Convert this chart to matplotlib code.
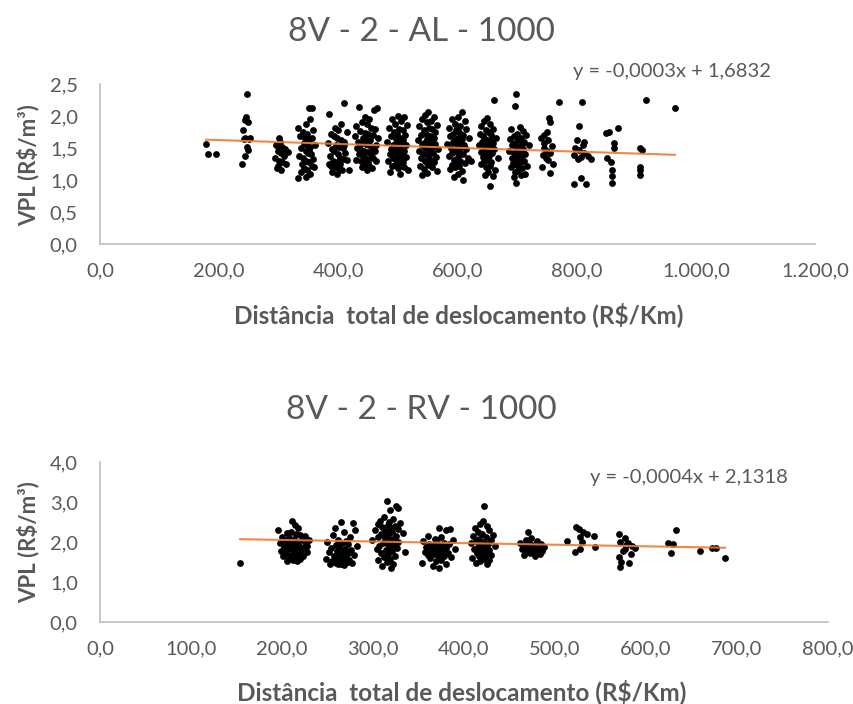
import matplotlib
matplotlib.use("Agg")
import numpy as np
import matplotlib.pyplot as plt

plt.rcParams['font.family'] = ['Lato', 'DejaVu Sans']

# ---------- top chart: 8V - 2 - AL - 1000 ----------
al_x = [178, 181, 195,
        247, 245, 243, 248, 240, 244, 250, 252, 241, 246, 249, 243, 239,
        300, 302, 296, 305, 310, 298, 303, 308, 315, 294, 300, 306, 299, 312, 297, 304, 309, 301,
        350, 355, 332, 345, 352, 340, 348, 358, 336, 344, 350, 356, 342, 347, 353, 338, 360, 345,
        349, 354, 334, 341, 357, 346, 351, 339, 355, 343, 348, 337, 352, 359, 345, 333, 350,
        410, 385, 405, 395, 400, 388, 415, 392, 398, 404, 410, 383, 396, 401, 407, 389, 393, 412,
        399, 386, 403, 408, 391, 397, 414, 402, 387, 394, 400, 406, 390, 398, 418, 384, 409,
        434, 465, 460, 445, 452, 440, 430, 448, 455, 462, 436, 444, 450, 458, 428, 441, 447, 453,
        466, 433, 439, 446, 451, 457, 463, 431, 437, 443, 449, 456, 461, 435, 442, 454, 459, 429,
        438, 450, 464, 445, 452, 440, 456, 448, 444,
        500, 510, 490, 505, 495, 515, 485, 502, 508, 493, 498, 512, 488, 504, 496, 509, 482, 500,
        506, 492, 514, 497, 503, 489, 511, 494, 501, 507, 486, 499, 513, 491, 505, 497, 484, 508,
        502, 495, 490, 510, 500, 517, 487, 504, 498,
        550, 545, 560, 540, 555, 548, 565, 535, 552, 558, 543, 562, 547, 538, 554, 560, 549, 533,
        556, 544, 563, 551, 541, 557, 546, 568, 536, 553, 559, 542, 550, 564, 539, 555, 545, 561,
        548, 552, 537, 557, 544, 566, 549, 541, 554,
        608, 600, 590, 612, 595, 605, 585, 615, 598, 603, 592, 610, 588, 601, 607, 596, 620, 593,
        604, 583, 611, 599, 606, 589, 614, 597, 602, 591, 609, 586, 600, 618, 594, 605, 598, 612,
        590, 603, 596, 587, 608, 601, 594, 610, 622,
        662, 650, 645, 655, 640, 660, 648, 652, 638, 657, 643, 665, 646, 654, 641, 659, 649, 636,
        656, 644, 662, 651, 639, 658, 647, 653, 642, 668, 650, 645, 657, 640, 655, 648, 663, 652,
        646, 660, 655,
        699, 696, 705, 690, 710, 700, 715, 694, 706, 688, 702, 712, 697, 708, 692, 704, 720, 699,
        710, 686, 703, 695, 714, 701, 707, 691, 698, 711, 705, 693, 700, 716, 689, 709, 702, 697,
        699, 706, 713, 695,
        770, 753, 756, 750, 745, 740, 752, 758, 746, 750, 755, 743, 752, 741, 755, 760, 748, 745,
        809, 804, 800, 812, 810, 798, 804, 812, 795, 807, 819, 824, 802, 795, 807, 815,
        849, 854, 869, 862, 862, 851, 857, 859, 859, 859,
        906, 909, 906, 906, 906, 916, 965]
al_y = [1.56, 1.41, 1.41,
        2.34, 1.99, 1.94, 1.90, 1.78, 1.66, 1.64, 1.65, 1.64, 1.52, 1.47, 1.38, 1.25,
        1.66, 1.60, 1.55, 1.52, 1.48, 1.45, 1.42, 1.40, 1.43, 1.35, 1.30, 1.28, 1.22, 1.25, 1.18, 1.15, 1.38, 1.50,
        2.12, 2.12, 1.82, 1.88, 1.95, 1.75, 1.72, 1.78, 1.68, 1.65, 1.62, 1.66, 1.58, 1.55, 1.52, 1.50, 1.55, 1.46,
        1.42, 1.40, 1.38, 1.35, 1.33, 1.30, 1.28, 1.25, 1.22, 1.18, 1.15, 1.12, 1.10, 1.20, 1.05, 1.03, 1.45,
        2.20, 2.03, 1.88, 1.82, 1.78, 1.72, 1.75, 1.68, 1.65, 1.62, 1.60, 1.58, 1.55, 1.52, 1.50, 1.48, 1.45, 1.42,
        1.40, 1.38, 1.35, 1.33, 1.30, 1.28, 1.32, 1.25, 1.22, 1.20, 1.18, 1.15, 1.12, 1.10, 1.16, 1.25, 1.55,
        2.14, 2.12, 2.10, 1.98, 1.95, 1.90, 1.85, 1.88, 1.82, 1.80, 1.76, 1.74, 1.72, 1.70, 1.68, 1.66, 1.64, 1.62,
        1.65, 1.60, 1.58, 1.56, 1.54, 1.52, 1.55, 1.50, 1.48, 1.46, 1.44, 1.42, 1.45, 1.40, 1.38, 1.36, 1.34, 1.32,
        1.30, 1.28, 1.30, 1.25, 1.22, 1.20, 1.18, 1.15, 1.35,
        2.00, 1.98, 1.95, 1.92, 1.88, 1.86, 1.82, 1.80, 1.78, 1.75, 1.72, 1.70, 1.68, 1.66, 1.64, 1.62, 1.60, 1.58,
        1.56, 1.55, 1.54, 1.52, 1.50, 1.48, 1.46, 1.45, 1.44, 1.42, 1.40, 1.38, 1.36, 1.35, 1.34, 1.32, 1.30, 1.28,
        1.26, 1.24, 1.22, 1.20, 1.18, 1.15, 1.12, 1.10, 1.60,
        2.06, 2.02, 1.98, 1.95, 1.92, 1.90, 1.86, 1.84, 1.82, 1.80, 1.78, 1.75, 1.72, 1.70, 1.68, 1.66, 1.64, 1.62,
        1.60, 1.58, 1.56, 1.55, 1.54, 1.52, 1.50, 1.48, 1.46, 1.44, 1.42, 1.40, 1.38, 1.36, 1.34, 1.32, 1.30, 1.28,
        1.26, 1.24, 1.22, 1.20, 1.17, 1.14, 1.11, 1.08, 1.45,
        2.06, 1.98, 1.95, 1.92, 1.88, 1.85, 1.82, 1.80, 1.78, 1.75, 1.72, 1.70, 1.68, 1.66, 1.64, 1.62, 1.65, 1.60,
        1.58, 1.56, 1.55, 1.54, 1.52, 1.50, 1.48, 1.46, 1.44, 1.42, 1.40, 1.38, 1.36, 1.34, 1.32, 1.30, 1.28, 1.26,
        1.24, 1.22, 1.20, 1.17, 1.14, 1.10, 1.05, 1.00, 1.30,
        2.25, 1.97, 1.92, 1.88, 1.84, 1.80, 1.78, 1.75, 1.72, 1.70, 1.68, 1.66, 1.64, 1.62, 1.60, 1.58, 1.56, 1.54,
        1.52, 1.50, 1.48, 1.46, 1.44, 1.42, 1.40, 1.38, 1.36, 1.34, 1.32, 1.30, 1.28, 1.25, 1.22, 1.20, 1.16, 1.12,
        1.08, 1.06, 0.91,
        2.34, 2.16, 1.83, 1.80, 1.76, 1.72, 1.70, 1.68, 1.66, 1.64, 1.62, 1.60, 1.58, 1.56, 1.54, 1.52, 1.55, 1.50,
        1.48, 1.46, 1.44, 1.42, 1.40, 1.38, 1.36, 1.34, 1.32, 1.30, 1.28, 1.26, 1.24, 1.22, 1.20, 1.18, 1.15, 1.12,
        0.95, 1.08, 1.10, 1.05,
        2.22, 1.97, 1.90, 1.75, 1.70, 1.66, 1.62, 1.53, 1.50, 1.45, 1.42, 1.39, 1.31, 1.20, 1.11, 1.25, 1.35, 1.58,
        2.22, 1.85, 1.63, 1.60, 1.55, 1.50, 1.47, 1.42, 1.39, 1.36, 1.38, 1.33, 1.33, 0.94, 1.03, 0.94,
        1.73, 1.75, 1.81, 1.58, 1.50, 1.34, 1.28, 1.16, 1.06, 0.95,
        1.50, 1.47, 1.20, 1.16, 1.08, 2.25, 2.12]
al_slope, al_intercept = -0.0003, 1.6832
al_ticks_x = [0, 200, 400, 600, 800, 1000, 1200]
al_ticklabels_x = ["0,0", "200,0", "400,0", "600,0", "800,0", "1.000,0", "1.200,0"]
al_ticks_y = [0, 0.5, 1.0, 1.5, 2.0, 2.5]
al_ticklabels_y = ["0,0", "0,5", "1,0", "1,5", "2,0", "2,5"]

# ---------- bottom chart: 8V - 2 - RV - 1000 ----------
rv_x = [154,
        211, 214, 196, 218, 205, 210, 215, 220, 225, 200, 208, 213, 222, 230, 203, 212, 217, 198,
        206, 226, 214, 209, 219, 202, 224, 211, 216, 207, 221, 199, 213, 228, 204, 218, 210, 223,
        201, 215, 208, 220, 212, 205, 217, 227, 209,
        265, 278, 258, 280, 268, 256, 275, 262, 270, 250, 266, 273, 259, 282, 263, 254, 269, 276,
        260, 267, 252, 272, 264, 279, 257, 270, 261, 268, 248, 274, 263, 255, 271, 266, 259, 277,
        262, 253, 268, 273, 260, 265,
        315, 325, 328, 319, 312, 322, 308, 318, 330, 305, 316, 324, 310, 320, 327, 302, 314, 321,
        333, 309, 317, 325, 306, 313, 322, 299, 319, 328, 311, 316, 323, 307, 318, 326, 304, 314,
        321, 335, 309, 317, 324, 312, 319, 306, 315, 322, 310, 320, 313, 318,
        372, 385, 380, 360, 375, 368, 388, 355, 370, 378, 362, 383, 366, 374, 358, 380, 369, 390,
        364, 376, 357, 372, 382, 367, 360, 378, 371, 386, 363, 375, 369, 354, 380, 366, 373,
        422, 421, 418, 425, 412, 428, 415, 420, 432, 410, 424, 417, 430, 413, 422, 408, 426, 419,
        434, 415, 423, 411, 428, 418, 425, 414, 420, 430, 416, 424, 409, 421, 427, 418, 413, 425,
        470, 474, 468, 480, 462, 485, 472, 477, 466, 488, 470, 482, 475, 464, 479, 471, 486, 468,
        476, 473, 483, 466, 478, 470,
        513, 523, 526, 531, 528, 535, 543, 544, 522, 527, 530,
        570, 577, 571, 580, 585, 570, 575, 577, 572, 581, 571, 588, 578, 583,
        633, 624, 630, 628,
        659, 673, 677, 687]
rv_y = [1.48,
        2.53, 2.42, 2.30, 2.35, 2.22, 2.25, 2.20, 2.18, 2.15, 2.12, 2.10, 2.08, 2.06, 2.05, 2.04, 2.02, 2.00, 1.98,
        1.96, 1.95, 1.94, 1.92, 1.90, 1.88, 1.87, 1.85, 1.84, 1.82, 1.80, 1.78, 1.76, 1.75, 1.72, 1.70, 1.68, 1.66,
        1.64, 1.62, 1.60, 1.58, 1.55, 1.53, 1.52, 1.90, 2.00,
        2.50, 2.48, 2.35, 2.30, 2.25, 2.18, 2.12, 2.05, 2.02, 2.00, 1.98, 1.95, 1.92, 1.90, 1.88, 1.85, 1.82, 1.80,
        1.78, 1.76, 1.74, 1.72, 1.70, 1.68, 1.66, 1.64, 1.62, 1.60, 1.58, 1.56, 1.55, 1.53, 1.52, 1.50, 1.48, 1.47,
        1.45, 1.44, 1.43, 1.50, 1.60, 1.46,
        3.03, 2.90, 2.85, 2.80, 2.62, 2.58, 2.52, 2.50, 2.48, 2.45, 2.42, 2.40, 2.38, 2.35, 2.32, 2.30, 2.28, 2.25,
        2.22, 2.20, 2.18, 2.15, 2.12, 2.10, 2.08, 2.05, 2.02, 2.00, 1.98, 1.95, 1.92, 1.90, 1.88, 1.85, 1.82, 1.80,
        1.78, 1.75, 1.72, 1.70, 1.66, 1.62, 1.58, 1.55, 1.50, 1.45, 1.40, 1.35, 2.25, 2.05,
        2.35, 2.32, 2.30, 2.15, 2.12, 2.08, 2.05, 2.02, 2.00, 1.98, 1.96, 1.94, 1.92, 1.90, 1.88, 1.86, 1.84, 1.82,
        1.80, 1.78, 1.76, 1.74, 1.72, 1.70, 1.68, 1.66, 1.64, 1.62, 1.60, 1.56, 1.52, 1.48, 1.44, 1.40, 1.35,
        2.90, 2.52, 2.45, 2.40, 2.35, 2.30, 2.25, 2.20, 2.18, 2.15, 2.12, 2.08, 2.05, 2.02, 2.00, 1.98, 1.95, 1.92,
        1.90, 1.88, 1.85, 1.82, 1.80, 1.78, 1.75, 1.72, 1.70, 1.68, 1.65, 1.62, 1.60, 1.58, 1.55, 1.52, 1.48, 1.45,
        2.25, 2.10, 2.05, 2.02, 1.98, 1.95, 1.95, 1.92, 1.90, 1.88, 1.86, 1.85, 1.84, 1.82, 1.80, 1.78, 1.78, 1.76,
        1.74, 1.72, 1.70, 1.68, 1.65, 1.85,
        2.03, 2.38, 2.32, 2.25, 2.12, 2.20, 2.15, 1.88, 1.75, 1.82, 2.00,
        2.20, 2.10, 2.00, 1.98, 1.90, 1.63, 1.78, 1.82, 1.50, 1.48, 1.38, 1.85, 1.92, 1.70,
        2.30, 1.98, 1.95, 1.73,
        1.78, 1.85, 1.85, 1.60]
rv_slope, rv_intercept = -0.0004, 2.1318
rv_ticks_x = [0, 100, 200, 300, 400, 500, 600, 700, 800]
rv_ticklabels_x = ["0,0", "100,0", "200,0", "300,0", "400,0", "500,0", "600,0", "700,0", "800,0"]
rv_ticks_y = [0, 1.0, 2.0, 3.0, 4.0]
rv_ticklabels_y = ["0,0", "1,0", "2,0", "3,0", "4,0"]

gray = "#595959"
axis_gray = "#bfbfbf"
orange = "#ED7D31"

W, H = 854, 704
fig = plt.figure(figsize=(W / 100, H / 100), dpi=100)


def draw(ax, xs, ys, slope, intercept, xt, xtl, yt, ytl, xmax, ymax, eq, eq_pos):
    ax.scatter(xs, ys, s=24, color="black", linewidths=0, zorder=3)
    xl = np.array([min(xs), max(xs)])
    ax.plot(xl, slope * xl + intercept, color=orange, lw=1.5, alpha=0.9, zorder=4)
    ax.set_xlim(0, xmax)
    ax.set_ylim(0, ymax)
    ax.set_xticks(xt)
    ax.set_xticklabels(xtl)
    ax.set_yticks(yt)
    ax.set_yticklabels(ytl)
    ax.tick_params(length=0, labelsize=14.5, labelcolor=gray)
    ax.tick_params(axis="x", pad=13)
    ax.tick_params(axis="y", pad=16)
    for s in ["top", "right"]:
        ax.spines[s].set_visible(False)
    for s in ["left", "bottom"]:
        ax.spines[s].set_color(axis_gray)
        ax.spines[s].set_linewidth(1.2)
    ax.text(eq_pos[0], eq_pos[1], eq, transform=ax.transAxes, fontsize=14.5, color=gray,
            ha="center", va="center")


ax1 = fig.add_axes([100 / W, 1 - 244 / H, 715 / W, 160 / H])
draw(ax1, al_x, al_y, al_slope, al_intercept, al_ticks_x, al_ticklabels_x,
     al_ticks_y, al_ticklabels_y, 1200, 2.5, "y = -0,0003x + 1,6832", (0.80, 1.075))
fig.text(421 / W, 1 - 32 / H, "8V - 2 - AL - 1000", ha="center", va="center", fontsize=24, color=gray)
fig.text(459 / W, 1 - 315 / H, "Distância  total de deslocamento (R\\$/Km)", ha="center", va="center",
         fontsize=17.5, fontweight="bold", color=gray)
fig.text(28 / W, 1 - 165 / H, "VPL (R\\$/m³)", ha="center", va="center", rotation=90,
         fontsize=16, fontweight="bold", color=gray)

ax2 = fig.add_axes([100 / W, 1 - 622 / H, 728 / W, 160 / H])
draw(ax2, rv_x, rv_y, rv_slope, rv_intercept, rv_ticks_x, rv_ticklabels_x,
     rv_ticks_y, rv_ticklabels_y, 800, 4.0, "y = -0,0004x + 2,1318", (0.809, 0.906))
fig.text(421 / W, 1 - 410 / H, "8V - 2 - RV - 1000", ha="center", va="center", fontsize=24, color=gray)
fig.text(462 / W, 1 - 692 / H, "Distância  total de deslocamento (R\\$/Km)", ha="center", va="center",
         fontsize=17.5, fontweight="bold", color=gray)
fig.text(28 / W, 1 - 542 / H, "VPL (R\\$/m³)", ha="center", va="center", rotation=90,
         fontsize=16, fontweight="bold", color=gray)

fig.savefig("out.png", dpi=100, facecolor="white")
